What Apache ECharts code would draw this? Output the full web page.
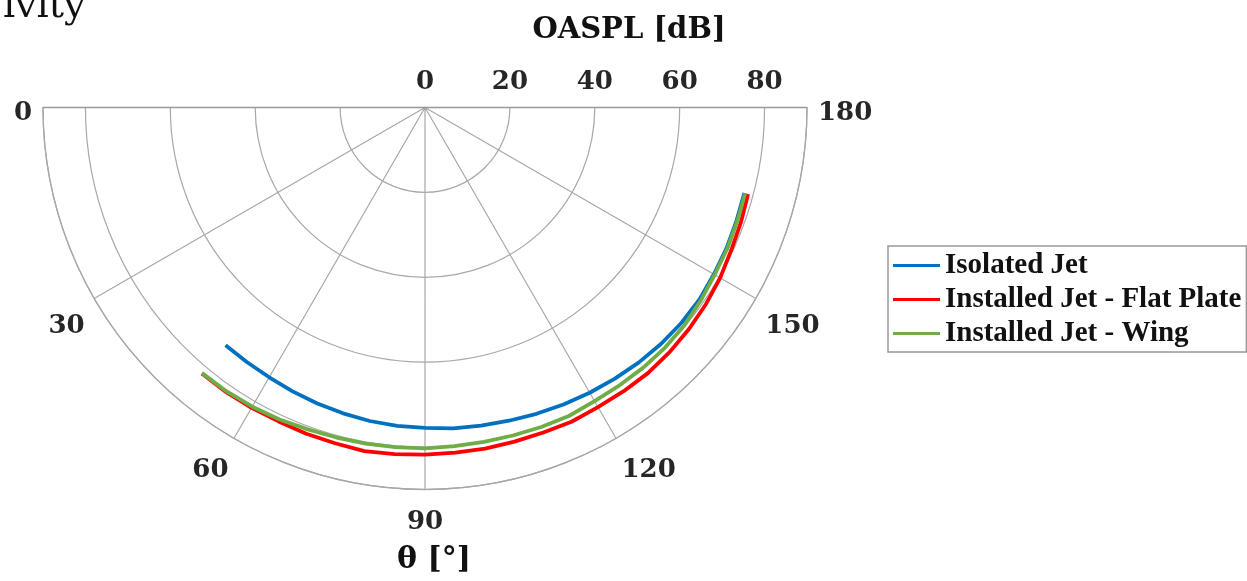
<!DOCTYPE html>
<html>
<head>
<meta charset="utf-8">
<script src="https://cdn.jsdelivr.net/npm/echarts@6/dist/echarts.min.js"></script>
<style>
html,body{margin:0;padding:0;background:#fff;}
#chart{width:1247px;height:581px;}
</style>
</head>
<body>
<div id="chart"></div>
<script>
// Polar angle θ in degrees (0 = left, 90 = bottom, 180 = right)
const thetaDeg = [50,55,60,65,70,75,80,85,90,95,100,105,110,115,120,125,130,135,140,145,150,155,160,165];
// OASPL [dB]
const isolatedJet = [73.1,73.2,73.4,73.8,74.2,74.6,75.0,75.3,75.5,75.9,76.1,76.4,76.8,77.2,77.6,78.0,78.4,78.7,78.9,78.9,78.6,78.4,78.1,77.9];
const flatPlate   = [81.8,81.8,81.7,81.6,81.8,81.9,82.2,82.0,81.8,81.6,81.6,81.5,81.5,81.7,81.5,81.6,81.7,81.5,81.2,80.8,80.3,79.6,79.2,78.8];
const wing        = [81.7,81.6,81.4,81.1,80.7,80.5,80.4,80.3,80.3,80.1,80.0,80.0,80.1,80.2,79.9,79.9,80.0,80.0,79.8,79.3,78.8,78.6,78.3,78.1];
const seriesNames = ['Isolated Jet','Installed Jet - Flat Plate','Installed Jet - Wing'];
const seriesColors = ['#0070C0','#FF0000','#70AD47'];
const radiusTicks = [0,20,40,60,80];
const angleTicks = [0,30,60,90,120,150,180];

const chart = echarts.init(document.getElementById('chart'), null, {renderer:'canvas'});
const gridColor = '#a8a8a8';
const numFont = {fontFamily:'DejaVu Serif', fontWeight:'bold', fontSize:26, color:'#262626'};

function toPolar(vals){ return thetaDeg.map((t,i)=>[vals[i], t]); }

const option = {
  animation:false,
  backgroundColor:'#ffffff',
  title:[
    {text:'OASPL [dB]', left:624, top:11, textAlign:'center',
     textStyle:{fontFamily:'DejaVu Serif', fontWeight:'bold', fontSize:29, color:'#111'}},
    {text:'θ [°]', left:429, top:540, textAlign:'center',
     textStyle:{fontFamily:'DejaVu Serif', fontWeight:'bold', fontSize:30, color:'#111'}},
    {text:'ivity', left:-2, top:-17,
     textStyle:{fontFamily:'DejaVu Serif', fontWeight:'normal', fontSize:38, color:'#111'}}
  ],
  legend:{
    orient:'vertical', left:888, top:246,
    data:seriesNames,
    icon:'rect', itemWidth:47, itemHeight:3, itemGap:5,
    padding:[5,5,4,5],
    borderColor:'#999', borderWidth:1.5,
    textStyle:{fontFamily:'Liberation Serif', fontWeight:'bold', fontSize:29, lineHeight:29, color:'#111'}
  },
  polar:[
    {center:[425,107.5], radius:382},
    {center:[425,107.5], radius:382}
  ],
  angleAxis:[
    {polarIndex:0, type:'value', min:0, max:180, interval:30,
     startAngle:180, endAngle:360, clockwise:false,
     axisLine:{show:true, lineStyle:{color:gridColor, width:1.3}},
     axisTick:{show:false},
     axisLabel:{show:true, margin:11, ...numFont,
       formatter:(v)=> !angleTicks.includes(v) ? '' : ((v===0||v===180) ? '{e|'+v+'}' : '{n|'+v+'}'),
       rich:{
         n:{...numFont, padding:[9,0,0,0]},
         e:{...numFont, padding:[12,0,0,0]}
       }},
     splitLine:{show:true, lineStyle:{color:gridColor, width:1.2}}
    },
    {polarIndex:1, type:'value', min:0, max:180,
     startAngle:0, endAngle:-180, clockwise:true,
     axisLine:{show:false}, axisTick:{show:false}, axisLabel:{show:false}, splitLine:{show:false}
    }
  ],
  radiusAxis:[
    {polarIndex:0, type:'value', min:0, max:90, interval:20,
     axisLine:{show:true, lineStyle:{color:'#999', width:1.3}},
     axisTick:{show:false}, axisLabel:{show:false},
     splitLine:{show:true, lineStyle:{color:gridColor, width:1.2}}
    },
    {polarIndex:1, type:'value', min:0, max:90, interval:20,
     axisLine:{show:true, lineStyle:{color:'#999', width:1.3}},
     axisTick:{show:false},
     axisLabel:{show:true, margin:12, showMaxLabel:false, ...numFont,
       formatter:(v)=> radiusTicks.includes(v) ? String(v) : ''},
     splitLine:{show:false}
    }
  ],
  series:[
    {name:seriesNames[0], type:'line', coordinateSystem:'polar', polarIndex:0, data:toPolar(isolatedJet),
     symbol:'none', lineStyle:{width:3.8, color:seriesColors[0]}, itemStyle:{color:seriesColors[0]}, z:3},
    {name:seriesNames[1], type:'line', coordinateSystem:'polar', polarIndex:0, data:toPolar(flatPlate),
     symbol:'none', lineStyle:{width:3.8, color:seriesColors[1]}, itemStyle:{color:seriesColors[1]}, z:3},
    {name:seriesNames[2], type:'line', coordinateSystem:'polar', polarIndex:0, data:toPolar(wing),
     symbol:'none', lineStyle:{width:3.8, color:seriesColors[2]}, itemStyle:{color:seriesColors[2]}, z:4}
  ]
};
chart.setOption(option);
</script>
</body>
</html>
